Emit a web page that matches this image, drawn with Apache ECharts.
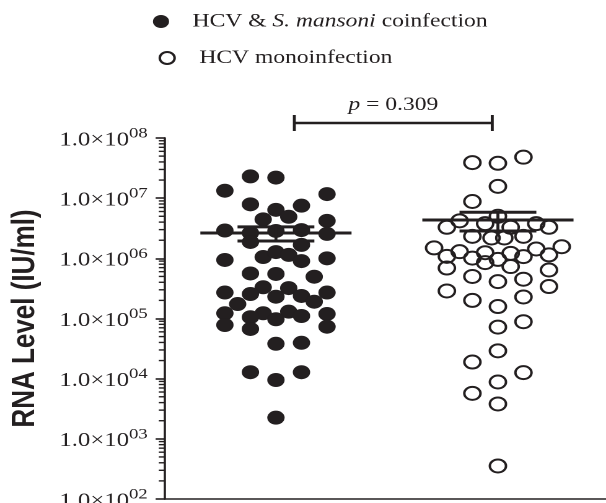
<!DOCTYPE html>
<html>
<head>
<meta charset="utf-8">
<title>HCV RNA level</title>
<script src="https://cdn.jsdelivr.net/npm/echarts@6/dist/echarts.min.js"></script>
<style>
  html, body { margin: 0; padding: 0; background: #fff; overflow: hidden; }
  /* the source figure is stretched sideways, so draw it narrow and widen it */
  #main { width: 489px; height: 503px; transform: scaleX(1.2393); transform-origin: 0 0; }
</style>
</head>
<body>
<div id="main"></div>
<script>
  const groupNames = ['HCV & S. mansoni coinfection', 'HCV monoinfection']
  const groupCenters = [1, 2]
  const slotStep = 0.0575 // spread of the dot columns around a group

  // coinfection: column slot and RNA level (IU/ml)
  const coinfSlots = [-2, 0, -4, 4, -2, 2, 0, -1, 1, 4, -4, -2, 0, 2, 4, -2, 2, -4, -1, 0, 1, 2, 4, -2, 0, 3,
    -1, 1, -4, -2, 0, 2, 4, -3, 3, -1, 1, -4, -2, 0, 2, 4, -4, -2, 4, 0, 2, -2, 0, 2, 0]
  const coinfValues = [2.3e7, 2.2e7, 1.33e7, 1.17e7, 7.9e6, 7.5e6, 6.4e6, 4.45e6, 4.9e6, 4.2e6,
    2.9e6, 2.64e6, 2.85e6, 2.95e6, 2.55e6, 1.87e6, 1.67e6, 9.4e5, 1.05e6, 1.27e6, 1.14e6, 9.0e5, 1.0e6,
    5.6e5, 5.5e5, 4.95e5, 3.3e5, 3.2e5, 2.7e5, 2.55e5, 2.3e5, 2.37e5, 2.7e5, 1.74e5, 1.9e5,
    1.22e5, 1.3e5, 1.22e5, 1.05e5, 9.7e4, 1.1e5, 1.19e5, 7.8e4, 6.7e4, 7.3e4, 3.8e4, 3.95e4,
    1.28e4, 9.5e3, 1.28e4, 2.25e3]

  // monoinfection
  const monoSlots = [-2, 0, 2, 0, -2, 0, -3, -4, -1, 1, 3, 4, -2, -0.5, 0.5, 2, -5, -3, -1, 1, 3, 5,
    -4, -2, -1, 0, 2, 4, -4, -2, 1, 4, 0, 2, -4, 4, -2, 2, 0, 0, 2, 0, -2, 2, 0, -2, 0, 0]
  const monoValues = [3.9e7, 3.8e7, 4.8e7, 1.57e7, 8.8e6, 5.0e6, 4.2e6, 3.28e6, 3.77e6, 3.28e6, 3.77e6, 3.28e6,
    2.32e6, 2.18e6, 2.18e6, 2.32e6, 1.49e6, 1.29e6, 1.24e6, 1.21e6, 1.43e6, 1.56e6,
    1.08e6, 1.01e6, 8.5e5, 9.6e5, 1.07e6, 1.14e6, 6.9e5, 5.0e5, 7.3e5, 6.4e5, 4.1e5, 4.5e5,
    2.87e5, 3.4e5, 2.0e5, 2.28e5, 1.58e5, 7.2e4, 8.85e4, 2.9e4, 1.89e4, 1.26e4, 8.8e3, 5.7e3, 3.8e3, 354]

  const groupMeans = [2.64e6, 4.34e6]
  const groupSems = [0.7e6, 1.5e6]
  const tickExponents = [2, 3, 4, 5, 6, 7, 8]
  const pValue = '0.309'

  const ink = '#231f20'
  const serif = '"Liberation Serif", "Times New Roman", serif'
  const xMin = 0.5

  function points(center, slots, values) {
    return slots.map((s, i) => [center + s * slotStep, values[i]])
  }

  // log minor tick values: 2..9 x 10^n
  const minorValues = []
  for (let e = tickExponents[0]; e < tickExponents[tickExponents.length - 1]; e++) {
    for (let k = 2; k <= 9; k++) minorValues.push(k * Math.pow(10, e))
  }

  const chart = echarts.init(document.getElementById('main'), null, { devicePixelRatio: 2 })

  const option = {
    animation: false,
    grid: { left: 133.1, right: 0, top: 138, bottom: 4, outerBoundsMode: 'none' },
    legend: [
      {
        data: [{ name: groupNames[0], icon: 'circle' }],
        left: 123.4, top: 12, padding: 0,
        itemWidth: 13, itemHeight: 13,
        selectedMode: false,
        formatter: () => '{n|HCV & }{i|S. mansoni}{n| coinfection}',
        textStyle: {
          padding: [0, 0, 0, 14],
          rich: {
            n: { fontFamily: serif, fontSize: 19, color: ink, lineHeight: 20 },
            i: { fontFamily: serif, fontSize: 19, color: ink, lineHeight: 20, fontStyle: 'italic' }
          }
        }
      },
      {
        data: [{ name: groupNames[1], icon: 'circle' }],
        left: 127.9, top: 48, padding: 0,
        itemWidth: 12, itemHeight: 12,
        selectedMode: false,
        textStyle: { fontFamily: serif, fontSize: 19, color: ink, lineHeight: 20, padding: [0, 0, 0, 15] }
      }
    ],
    xAxis: {
      type: 'value', min: xMin, max: 2.487,
      axisLine: { lineStyle: { color: ink, width: 1.6 } },
      axisTick: { show: false },
      axisLabel: { show: false },
      splitLine: { show: false }
    },
    yAxis: [
      // data axis
      { type: 'log', logBase: 10, min: 100, max: 1e8, show: false },
      // decade labels and major ticks (log10 units)
      {
        type: 'value', position: 'left',
        min: tickExponents[0], max: tickExponents[tickExponents.length - 1], interval: 1,
        name: 'RNA Level (IU/ml)', nameLocation: 'middle', nameGap: 100,
        nameTextStyle: { fontFamily: '"Liberation Sans", Arial, sans-serif', fontWeight: 'bold', fontSize: 26, color: ink },
        axisLine: { show: true, lineStyle: { color: ink, width: 1.8 } },
        axisTick: { show: true, length: 7.5, lineStyle: { color: ink, width: 1.6 } },
        splitLine: { show: false },
        axisLabel: {
          margin: 14,
          formatter: v => '{a|1.0×10}{b|' + String(v).padStart(2, '0') + '}',
          rich: {
            a: { fontFamily: serif, fontSize: 20, color: ink, lineHeight: 24, verticalAlign: 'bottom' },
            b: { fontFamily: serif, fontSize: 15, color: ink, lineHeight: 15, verticalAlign: 'top' }
          }
        }
      }
    ],
    series: [
      {
        name: groupNames[0], type: 'scatter', yAxisIndex: 0,
        symbol: 'circle', symbolSize: 14,
        itemStyle: { color: ink, opacity: 1 },
        emphasis: { disabled: true },
        data: points(groupCenters[0], coinfSlots, coinfValues),
        z: 3
      },
      {
        name: groupNames[1], type: 'scatter', yAxisIndex: 0,
        symbol: 'circle', symbolSize: 13,
        itemStyle: { color: 'rgba(255,255,255,0)', borderColor: ink, borderWidth: 2, opacity: 1 },
        emphasis: { disabled: true },
        data: points(groupCenters[1], monoSlots, monoValues),
        z: 3
      },
      {
        // mean with SEM bars
        type: 'custom', yAxisIndex: 0,
        encode: { x: 0, y: 1 },
        data: groupCenters.map((c, i) => [c, groupMeans[i], groupSems[i]]),
        renderItem(params, api) {
          const c = api.value(0), m = api.value(1), s = api.value(2)
          const mid = api.coord([c, m])
          const hi = api.coord([c, m + s])
          const lo = api.coord([c, m - s])
          const st = { stroke: ink, lineWidth: 3 }
          return {
            type: 'group',
            children: [
              { type: 'line', shape: { x1: mid[0] - 61, y1: mid[1], x2: mid[0] + 61, y2: mid[1] }, style: st },
              { type: 'line', shape: { x1: hi[0] - 31, y1: hi[1], x2: hi[0] + 31, y2: hi[1] }, style: st },
              { type: 'line', shape: { x1: lo[0] - 31, y1: lo[1], x2: lo[0] + 31, y2: lo[1] }, style: st },
              { type: 'line', shape: { x1: mid[0], y1: hi[1], x2: mid[0], y2: lo[1] }, style: { stroke: ink, lineWidth: 2.4 } }
            ]
          }
        },
        z: 5
      },
      {
        // minor ticks of the log axis
        type: 'custom', yAxisIndex: 0, silent: true, clip: false,
        encode: { x: 0, y: 1 },
        data: minorValues.map(v => [xMin, v]),
        renderItem(params, api) {
          const p = api.coord([api.value(0), api.value(1)])
          return {
            type: 'line',
            shape: { x1: p[0] - 5, y1: p[1], x2: p[0], y2: p[1] },
            style: { stroke: ink, lineWidth: 1.4 }
          }
        },
        z: 6
      }
    ],
    graphic: [
      { type: 'line', shape: { x1: 237.5, y1: 123, x2: 397.2, y2: 123 }, style: { stroke: ink, lineWidth: 2.6 } },
      { type: 'line', shape: { x1: 237.5, y1: 115, x2: 237.5, y2: 131 }, style: { stroke: ink, lineWidth: 2.4 } },
      { type: 'line', shape: { x1: 397.2, y1: 115, x2: 397.2, y2: 131 }, style: { stroke: ink, lineWidth: 2.4 } },
      {
        type: 'text', x: 317.4, y: 105,
        style: {
          text: '{i|p} = ' + pValue,
          fill: ink, fontFamily: serif, fontSize: 19,
          align: 'center', verticalAlign: 'middle',
          textAlign: 'center', textVerticalAlign: 'middle',
          rich: { i: { fontFamily: serif, fontSize: 19, fontStyle: 'italic', fill: ink } }
        }
      }
    ]
  }

  chart.setOption(option)
</script>
</body>
</html>
